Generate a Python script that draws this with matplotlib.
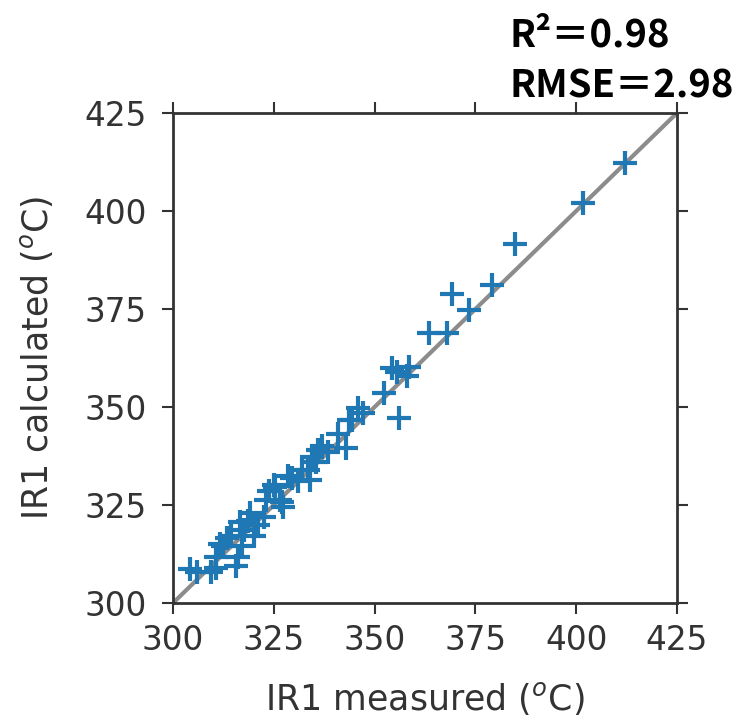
import matplotlib

matplotlib.use("Agg")
import matplotlib.pyplot as plt

# IR1 measured vs calculated
measured = [
    304.2, 306.0, 309.5, 310.7, 310.7, 311.7, 312.5, 313.5, 314.4, 315.5,
    316.2, 316.7, 317.0, 317.5, 318.5, 319.2, 320.0, 321.0, 322.5, 323.0,
    323.7, 325.0, 325.4, 326.6, 327.0, 327.4, 328.6, 329.4, 331.0, 331.9,
    333.6, 334.0, 334.4, 335.5, 336.0, 337.0, 338.5, 341.0, 342.8, 343.6,
    344.3, 346.0, 347.0, 352.3, 354.3, 355.5, 356.0, 358.0, 358.5, 363.5,
    368.0, 369.2, 373.5, 379.2, 384.7, 401.6, 412.0,
]
calculated = [
    308.6, 308.0, 308.0, 309.0, 311.7, 315.0, 314.5, 316.5, 317.0, 309.5,
    311.7, 320.6, 314.5, 318.5, 321.0, 323.0, 317.0, 320.0, 322.0, 326.4,
    328.5, 330.0, 329.5, 326.4, 325.7, 324.4, 332.3, 332.0, 331.0, 334.0,
    334.0, 331.5, 337.3, 336.0, 339.0, 340.0, 338.5, 343.0, 339.6, 346.7,
    346.7, 349.8, 348.5, 353.6, 360.0, 359.0, 347.3, 358.0, 360.2, 368.9,
    369.0, 378.7, 374.7, 381.0, 391.7, 402.1, 412.3,
]
ticks = [300, 325, 350, 375, 400, 425]
r2 = 0.98
rmse = 2.98

fig = plt.figure(figsize=(7.47, 7.22), dpi=100)
ax = fig.add_axes([0.2316, 0.1648, 0.6747, 0.6787])

ax.plot([300, 425], [300, 425], color="#8c8c8c", linewidth=3, zorder=1)
ax.plot(measured, calculated, linestyle="none", marker="+", color="#1f77b4",
        markersize=17, markeredgewidth=3, zorder=2)

ax.set_xlim(300, 425)
ax.set_ylim(300, 425)
ax.set_xticks(ticks)
ax.set_yticks(ticks)
ax.tick_params(axis="both", which="both", direction="out", length=8, width=1.5,
               top=True, right=True, labelsize=23.5, labelcolor="#333333",
               color="#333333")
ax.tick_params(axis="x", pad=7)
ax.tick_params(axis="y", pad=11)
for sp in ax.spines.values():
    sp.set_linewidth(2)
    sp.set_color("#333333")

ax.set_xlabel("IR1 measured ($^o$C)", fontsize=25, color="#333333", labelpad=17)
ax.set_ylabel("IR1 calculated ($^o$C)", fontsize=25, color="#333333", labelpad=21)

stat_font = ["Noto Sans CJK JP", "DejaVu Sans"]
fig.text(0.682, 0.935, f"R²＝{r2:.2f}", fontsize=27.5, fontweight="bold",
         family=stat_font, va="baseline", ha="left")
fig.text(0.682, 0.865, f"RMSE＝{rmse:.2f}", fontsize=27.5, fontweight="bold",
         family=stat_font, va="baseline", ha="left")

fig.savefig("out.png", dpi=100)
plt.close(fig)
